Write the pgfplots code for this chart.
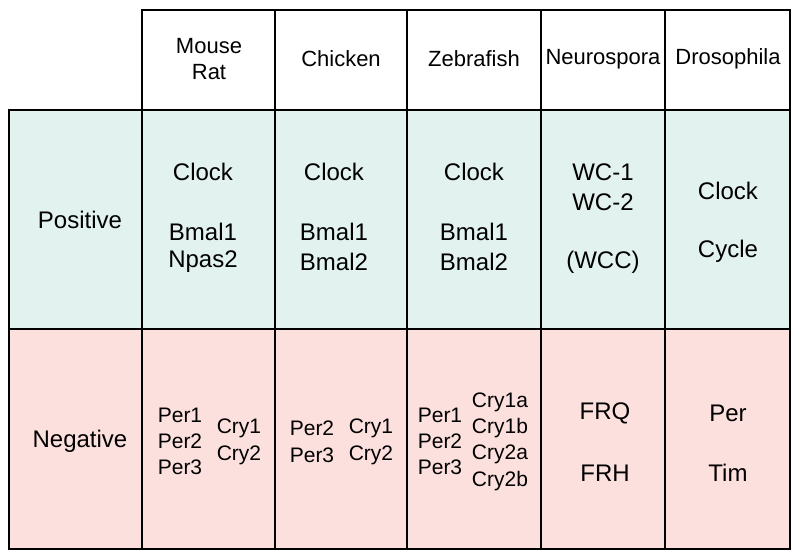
\documentclass[border=0pt]{standalone}
\usepackage{fontspec}
\setmainfont{Liberation Sans}
\usepackage{pgfplots}
\pgfplotsset{compat=1.18}

\definecolor{posfill}{HTML}{E2F2EE}
\definecolor{negfill}{HTML}{FCE0DD}

% one table cell: x0, y0, x1, y1, fill
\newcommand{\cell}[5]{%
  \addplot[fill=#5, draw=black, line width=0.9pt, line join=miter]
    coordinates {(#1,#2) (#3,#2) (#3,#4) (#1,#4)} --cycle;}

\newcommand{\bigf}{\fontsize{12}{14}\selectfont}
\newcommand{\hdrf}{\fontsize{11}{13}\selectfont}
\newcommand{\smf}{\fontsize{10.5}{12}\selectfont}

\begin{document}
\begin{tikzpicture}
\begin{axis}[
    width=400pt, height=280pt,
    scale only axis,
    xmin=0, xmax=800, ymin=0, ymax=560,
    y dir=reverse,
    hide axis,
    clip=false,
]
\addplot[draw=none] coordinates {(0,0) (800,560)};

% header row
\cell{142}{10}{275}{110}{white}
\cell{275}{10}{407}{110}{white}
\cell{407}{10}{541}{110}{white}
\cell{541}{10}{665}{110}{white}
\cell{665}{10}{790}{110}{white}
% positive row
\cell{9}{110}{142}{329}{posfill}
\cell{142}{110}{275}{329}{posfill}
\cell{275}{110}{407}{329}{posfill}
\cell{407}{110}{541}{329}{posfill}
\cell{541}{110}{665}{329}{posfill}
\cell{665}{110}{790}{329}{posfill}
% negative row
\cell{9}{329}{142}{549}{negfill}
\cell{142}{329}{275}{549}{negfill}
\cell{275}{329}{407}{549}{negfill}
\cell{407}{329}{541}{549}{negfill}
\cell{541}{329}{665}{549}{negfill}
\cell{665}{329}{790}{549}{negfill}

% headers
\node[font=\hdrf] at (axis cs:209,46) {Mouse};
\node[font=\hdrf] at (axis cs:209,72) {Rat};
\node[font=\hdrf] at (axis cs:341,59) {Chicken};
\node[font=\hdrf] at (axis cs:474,59) {Zebrafish};
\node[font=\hdrf] at (axis cs:603,59) {Neurospora};
\node[font=\hdrf] at (axis cs:728,59) {Drosophila};

% row labels
\node[font=\bigf] at (axis cs:80,220) {Positive};
\node[font=\bigf] at (axis cs:80,441) {Negative};

% positive row
\node[font=\bigf] at (axis cs:203,172) {Clock};
\node[font=\bigf] at (axis cs:203,232) {Bmal1};
\node[font=\bigf] at (axis cs:203,262) {Npas2};
\node[font=\bigf] at (axis cs:334,172) {Clock};
\node[font=\bigf] at (axis cs:334,232) {Bmal1};
\node[font=\bigf] at (axis cs:334,262) {Bmal2};
\node[font=\bigf] at (axis cs:474,172) {Clock};
\node[font=\bigf] at (axis cs:474,232) {Bmal1};
\node[font=\bigf] at (axis cs:474,262) {Bmal2};
\node[font=\bigf] at (axis cs:603,172) {WC-1};
\node[font=\bigf] at (axis cs:603,202) {WC-2};
\node[font=\bigf] at (axis cs:603,262) {(WCC)};
\node[font=\bigf] at (axis cs:728,191) {Clock};
\node[font=\bigf] at (axis cs:728,251) {Cycle};

% negative row
\node[font=\smf] at (axis cs:180,415) {Per1};
\node[font=\smf] at (axis cs:180,441) {Per2};
\node[font=\smf] at (axis cs:180,467) {Per3};
\node[font=\smf] at (axis cs:239,428) {Cry1};
\node[font=\smf] at (axis cs:239,455) {Cry2};
\node[font=\smf] at (axis cs:312,428) {Per2};
\node[font=\smf] at (axis cs:312,455) {Per3};
\node[font=\smf] at (axis cs:371,428) {Cry1};
\node[font=\smf] at (axis cs:371,455) {Cry2};
\node[font=\smf] at (axis cs:440,415) {Per1};
\node[font=\smf] at (axis cs:440,441) {Per2};
\node[font=\smf] at (axis cs:440,467) {Per3};
\node[font=\smf] at (axis cs:500,402) {Cry1a};
\node[font=\smf] at (axis cs:500,428) {Cry1b};
\node[font=\smf] at (axis cs:500,454) {Cry2a};
\node[font=\smf] at (axis cs:500,481) {Cry2b};
\node[font=\bigf] at (axis cs:605,413) {FRQ};
\node[font=\bigf] at (axis cs:605,473) {FRH};
\node[font=\bigf] at (axis cs:728,413) {Per};
\node[font=\bigf] at (axis cs:728,473) {Tim};
\end{axis}
\end{tikzpicture}
\end{document}
